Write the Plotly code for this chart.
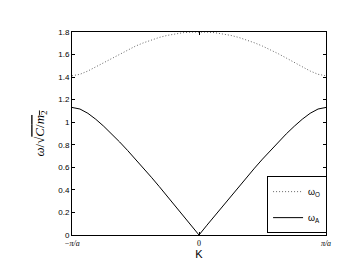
import plotly.graph_objects as go

# wave number K in units of pi/a (from -1 to 1)
k_units = [-1, -0.9375, -0.875, -0.8125, -0.75, -0.6875, -0.625, -0.5625, -0.5,
           -0.4375, -0.375, -0.3125, -0.25, -0.1875, -0.125, -0.0625, 0,
           0.0625, 0.125, 0.1875, 0.25, 0.3125, 0.375, 0.4375, 0.5,
           0.5625, 0.625, 0.6875, 0.75, 0.8125, 0.875, 0.9375, 1]

# half-branch values read from 0 to the zone edge
acoustic_half = [0.0, 0.087, 0.173, 0.259, 0.344, 0.429, 0.512, 0.593, 0.673,
                 0.750, 0.825, 0.897, 0.964, 1.026, 1.079, 1.117, 1.131]
optical_half = [1.800, 1.799, 1.794, 1.784, 1.770, 1.752, 1.730, 1.704, 1.675,
                1.643, 1.607, 1.569, 1.530, 1.491, 1.454, 1.425, 1.412]

acoustic = acoustic_half[::-1] + acoustic_half[1:]
optical = optical_half[::-1] + optical_half[1:]

pi = 3.141592653589793
K = [k * pi for k in k_units]

y_ticks = [0, 0.2, 0.4, 0.6, 0.8, 1.0, 1.2, 1.4, 1.6, 1.8]
y_tick_text = ["0", "0.2", "0.4", "0.6", "0.8", "1", "1.2", "1.4", "1.6", "1.8"]
x_ticks = [-pi, 0, pi]
x_tick_text = ["<i>\u2212\u03c0/a</i>", "0", "<i>\u03c0/a</i>"]

fig = go.Figure()
fig.add_trace(go.Scatter(x=K, y=optical, mode="lines", name="\u03c9<sub>O</sub>",
                         legendgroup="o",
                         line=dict(color="#666666", width=1, dash="1px,2px")))
fig.add_trace(go.Scatter(x=K, y=acoustic, mode="lines", name="\u03c9<sub>A</sub>",
                         legendgroup="a",
                         line=dict(color="black", width=1)))

fig.update_layout(
    width=357, height=270,
    margin=dict(l=72, r=31, t=32, b=35),
    paper_bgcolor="white", plot_bgcolor="white",
    font=dict(family="Liberation Sans, Arial, sans-serif", size=8, color="black"),
    showlegend=True,
    legend=dict(x=0.768, y=0.29, xanchor="left", yanchor="top",
                bgcolor="white", bordercolor="black", borderwidth=1,
                font=dict(size=9, color="black"), tracegroupgap=7, itemwidth=30),
)
fig.update_xaxes(
    range=[-pi, pi], tickvals=x_ticks, ticktext=x_tick_text,
    tickfont=dict(family="Liberation Serif, Times New Roman, serif", size=8),
    ticks="inside", ticklen=3, tickcolor="black",
    showline=True, linecolor="black", linewidth=1, mirror="ticks",
    showgrid=False, zeroline=False,
    title=dict(text="K", font=dict(size=11), standoff=3),
)
fig.update_yaxes(
    range=[0, 1.8], tickvals=y_ticks, ticktext=y_tick_text,
    ticks="inside", ticklen=3, tickcolor="black",
    showline=True, linecolor="black", linewidth=1, mirror="ticks",
    showgrid=False, zeroline=False,
    title=dict(text="<i>\u03c9</i>/\u221a<span style='text-decoration:overline'><i>C</i>/<i>m</i><sub>2</sub></span>",
               font=dict(family="Liberation Serif, Times New Roman, serif", size=13), standoff=10),
)

fig.write_html("out.html")
